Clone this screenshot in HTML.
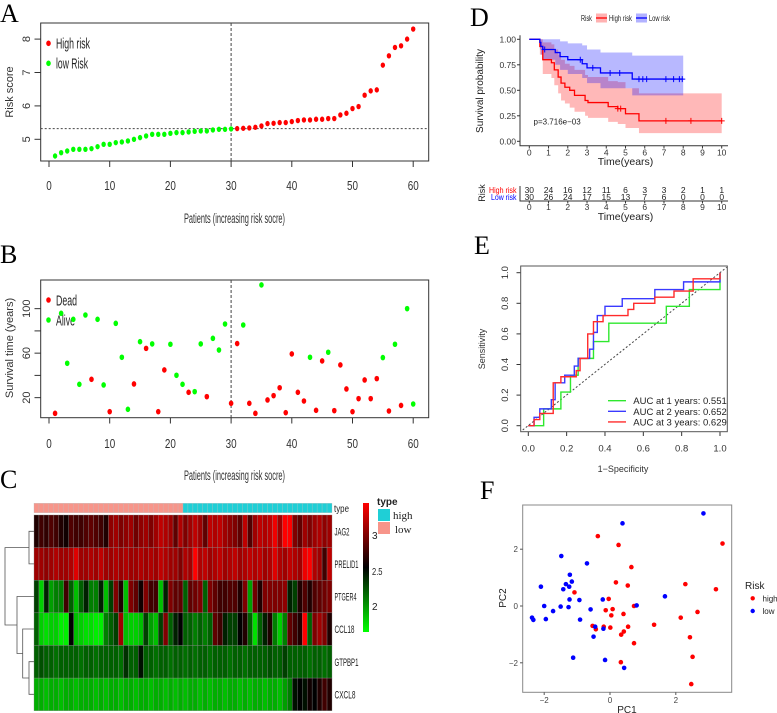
<!DOCTYPE html>
<html><head><meta charset="utf-8"><style>
html,body{margin:0;padding:0;background:#fff;}
svg{display:block;font-family:"Liberation Sans",sans-serif;}
.serif{font-family:"Liberation Serif",serif;}
</style></head><body>
<svg id="fig" width="777" height="713" viewBox="0 0 777 713">
<rect x="0" y="0" width="777" height="713" fill="#fff"/>
<text class="serif" x="0" y="22" font-size="26">A</text>
<text class="serif" x="0" y="263" font-size="26">B</text>
<text class="serif" x="0" y="488" font-size="26">C</text>
<text class="serif" x="470" y="26" font-size="26">D</text>
<text class="serif" x="474" y="254" font-size="26">E</text>
<text class="serif" x="480" y="499" font-size="26">F</text>

<g id="pa">
<rect x="40.7" y="23" width="388" height="138" fill="none" stroke="#333" stroke-width="1"/>
<text x="184" y="223" font-size="13.5" textLength="101" lengthAdjust="spacingAndGlyphs" fill="#333">Patients (increasing risk socre)</text>
<text x="13" y="92" font-size="11" text-anchor="middle" fill="#333" transform="rotate(-90 13 92)">Risk score</text>
<ellipse cx="48.5" cy="43.3" rx="2.3" ry="2.8" fill="#f00"/>
<text x="56" y="48.5" font-size="14.5" textLength="34" lengthAdjust="spacingAndGlyphs" fill="#222">High risk</text>
<ellipse cx="48.5" cy="63.3" rx="2.3" ry="2.8" fill="#0f0"/>
<text x="56" y="68.5" font-size="14.5" textLength="32" lengthAdjust="spacingAndGlyphs" fill="#222">low Risk</text>
</g>
<g id="pb">
<rect x="40.7" y="280" width="388" height="137.7" fill="none" stroke="#333" stroke-width="1"/>
<text x="184" y="480" font-size="13.5" textLength="101" lengthAdjust="spacingAndGlyphs" fill="#333">Patients (increasing risk socre)</text>
<text x="13" y="348" font-size="11" text-anchor="middle" fill="#333" transform="rotate(-90 13 348)">Survival time (years)</text>
<ellipse cx="48.5" cy="300" rx="2.3" ry="2.8" fill="#f00"/>
<text x="56" y="305.5" font-size="14.5" textLength="21" lengthAdjust="spacingAndGlyphs" fill="#222">Dead</text>
<ellipse cx="48.5" cy="320" rx="2.3" ry="2.8" fill="#0f0"/>
<text x="56" y="325.5" font-size="14.5" textLength="19" lengthAdjust="spacingAndGlyphs" fill="#222">Alive</text>
</g>
<g id="pc">
<text x="334" y="512" font-size="10.5" textLength="15" lengthAdjust="spacingAndGlyphs" fill="#222">type</text>
<text x="377" y="505" font-size="10" font-weight="bold" fill="#222">type</text>
<rect x="378" y="509" width="12" height="12" fill="#1fcfd6"/>
<rect x="378" y="522" width="12" height="12" fill="#f7958a"/>
<text class="serif" x="393" y="519" font-size="11" fill="#222">high</text>
<text class="serif" x="395" y="533" font-size="11" fill="#222">low</text>
<defs><linearGradient id="cbar" x1="0" y1="1" x2="0" y2="0">
<stop offset="0" stop-color="#00ff00"/><stop offset="0.5" stop-color="#000"/><stop offset="1" stop-color="#ff0000"/></linearGradient></defs>
<rect x="363" y="503" width="6" height="129" fill="url(#cbar)"/>
<text x="372" y="539" font-size="10" fill="#222">3</text>
<text x="372" y="575" font-size="10.5" textLength="10.5" lengthAdjust="spacingAndGlyphs" fill="#222">2.5</text>
<text x="372" y="610" font-size="10" fill="#222">2</text>
<g fill="none" stroke="#555" stroke-width="0.8">
<path d="M34 531.3H29V563.9H34M29 547.6H5V625H17M34 661.7H29V694.3H34M29 678H22.7V629H34M22.7 653.5H17V596.5H34"/>
</g>
</g>
<g id="pd">
<text x="581" y="21" font-size="8" textLength="11" lengthAdjust="spacingAndGlyphs" fill="#222">Risk</text>
<rect x="596" y="13.5" width="11" height="9" fill="rgba(255,0,0,0.3)"/>
<line x1="596" y1="18" x2="607" y2="18" stroke="#f00" stroke-width="1.3"/>
<text x="609" y="21" font-size="8" textLength="23" lengthAdjust="spacingAndGlyphs" fill="#222">High risk</text>
<rect x="636" y="13.5" width="11" height="9" fill="rgba(0,0,255,0.3)"/>
<line x1="636" y1="18" x2="647" y2="18" stroke="#00f" stroke-width="1.3"/>
<text x="649" y="21" font-size="8" textLength="21" lengthAdjust="spacingAndGlyphs" fill="#222">Low risk</text>
<text x="483" y="91" font-size="10" text-anchor="middle" fill="#222" transform="rotate(-90 483 91)">Survival probability</text>
<text x="625.5" y="165" font-size="10.5" text-anchor="middle" fill="#222">Time(years)</text>
<text x="533.5" y="124.5" font-size="8" fill="#222">p=3.716e−03</text>
<text x="485" y="193" font-size="9" text-anchor="middle" fill="#222" transform="rotate(-90 485 193)">Risk</text>
<text x="489" y="193" font-size="8.5" textLength="27.5" lengthAdjust="spacingAndGlyphs" fill="#f00">High risk</text>
<text x="491" y="200" font-size="8.5" textLength="25.5" lengthAdjust="spacingAndGlyphs" fill="#00f">Low risk</text>
<text x="625.5" y="220" font-size="10.5" text-anchor="middle" fill="#222">Time(years)</text>
</g>
<g id="pe">
<text x="623" y="472" font-size="9" text-anchor="middle" fill="#333">1−Specificity</text>
<text x="485" y="349" font-size="9" text-anchor="middle" fill="#333" transform="rotate(-90 485 349)">Sensitivity</text>
</g>
<g id="pf">
<rect x="522.7" y="505" width="209" height="187.3" fill="none" stroke="#888" stroke-width="1"/>
<text x="627" y="713" font-size="10" text-anchor="middle" fill="#222">PC1</text>
<text x="506" y="598" font-size="10" text-anchor="middle" fill="#222" transform="rotate(-90 506 598)">PC2</text>
<text x="745" y="589" font-size="10" fill="#222">Risk</text>
<circle cx="752.7" cy="598.3" r="2.2" fill="#f00"/>
<text x="762.5" y="601.5" font-size="8" fill="#222">high</text>
<circle cx="752.7" cy="611" r="2.2" fill="#00f"/>
<text x="762.5" y="614" font-size="8" fill="#222">low</text>
</g>
</svg>
<script>
// ---------- DATA ----------
const riskScores=[4.5,4.6,4.65,4.7,4.7,4.7,4.72,4.78,4.85,4.85,4.9,4.92,4.95,5.0,5.05,5.1,5.15,5.15,5.15,5.18,5.2,5.2,5.22,5.24,5.25,5.25,5.28,5.3,5.3,5.31,5.32,5.33,5.34,5.36,5.4,5.47,5.48,5.5,5.5,5.53,5.56,5.58,5.58,5.6,5.6,5.62,5.62,5.73,5.78,5.92,5.98,6.32,6.45,6.48,7.22,7.5,7.75,7.8,8.0,8.3];
const riskCutoff=5.32;
const riskXTicks=[0,10,20,30,40,50,60];
const riskYTicks=[5,6,7,8];
const survTimes=[5.9,95.8,50.9,90.4,32,94.3,36.5,90.4,31.4,7.4,86.8,56.3,9.5,32.3,70.3,64.3,68.3,7.4,44.9,68,40.1,32,24.8,25.4,68.3,20.9,73.3,62.8,86.2,14.9,68.6,85.3,14.9,5.9,121.3,17.9,21.8,28.9,6.5,59.3,24.8,17,56.3,8.6,53,60.8,8.3,49.4,27.8,7.4,19.1,35.9,19.1,37.1,56,8,68,13,100,14.3];
const survStatus=[1,0,0,0,0,0,1,0,0,1,0,0,0,1,0,1,0,1,1,0,0,0,1,0,0,1,0,0,0,1,1,0,1,1,0,1,1,1,1,1,1,1,0,1,1,0,1,1,1,1,1,1,1,1,0,1,0,1,0,0];
const survYTicks=[20,40,60,80,100];
const survYLabels=["20","","60","","100"];
const genes=["JAG2","PRELID1","PTGER4","CCL18","GTPBP1","CXCL8"];
const geneLabelWidths=[15,24,22,20,24,21];
const sampleType=Array.from({length:60},(_,i)=>i<30?"low":"high");
const exprJAG2=[2.6,2.7,2.65,2.75,2.7,2.6,2.55,2.75,2.7,2.7,2.75,2.8,2.75,2.7,2.6,2.95,3.0,2.9,2.95,3.0,2.85,2.95,3.0,2.9,3.0,3.1,3.05,3.0,2.8,3.05,2.9,3.0,3.1,3.0,2.8,3.1,3.05,3.1,3.0,2.95,2.9,2.8,3.1,2.75,3.0,3.1,3.05,3.1,3.25,3.0,3.3,3.3,2.9,2.8,3.0,2.9,3.0,3.05,2.95,3.0];
const exprPRELID1=[3.0,3.0,2.95,3.0,3.05,3.0,3.0,3.05,3.2,3.0,3.0,3.05,3.0,3.1,3.0,3.0,3.05,3.0,3.05,3.0,3.0,3.05,3.0,3.05,3.0,3.1,3.05,3.0,3.0,2.9,3.05,3.0,3.3,3.05,3.1,3.0,3.05,3.1,3.0,3.05,3.1,3.0,3.05,3.1,3.05,3.1,3.0,3.05,3.2,3.05,3.0,3.1,3.05,3.0,3.25,3.3,3.05,3.0,2.7,3.1];
const exprPTGER4=[2.3,1.85,2.4,2.0,2.1,2.1,2.7,2.2,1.9,2.2,2.4,2.1,2.1,2.4,1.9,2.3,2.9,2.6,1.9,2.9,2.8,2.55,2.9,2.7,2.7,1.9,2.4,2.9,2.8,2.8,2.2,2.8,2.85,2.9,2.2,2.9,2.8,2.7,2.7,2.75,2.75,2.6,2.9,2.0,2.85,2.6,2.9,2.9,2.9,2.9,2.95,2.4,2.3,2.6,2.75,2.6,2.75,2.8,2.85,2.9];
const exprCCL18=[2.2,1.85,1.8,1.85,1.85,1.75,1.75,2.5,1.9,1.85,1.8,1.8,1.75,1.75,2.1,2.2,2.3,3.0,1.9,1.85,1.85,1.9,2.3,2.0,1.9,2.3,2.9,2.2,2.4,2.5,2.2,2.2,2.1,2.2,2.1,2.2,2.8,2.7,2.4,2.3,2.3,2.5,2.6,2.2,1.8,2.2,2.4,2.6,2.1,1.85,2.1,2.8,2.7,2.6,3.3,2.2,2.9,3.0,2.9,2.6];
const exprGTPBP1=[2.2,2.25,2.2,2.2,2.15,2.2,2.2,2.2,2.2,2.15,2.2,2.2,2.15,2.2,2.2,2.2,2.2,2.15,2.35,2.2,2.2,2.45,2.2,2.2,2.15,2.2,2.2,2.15,2.2,2.2,2.15,2.2,2.15,2.2,2.2,2.15,2.2,2.2,2.2,2.15,2.2,2.2,2.15,2.2,2.2,2.2,2.2,2.25,2.2,2.2,2.3,2.2,2.2,2.2,2.2,2.15,2.2,2.2,2.15,2.2];
const exprCXCL8=[1.95,1.95,1.9,1.95,1.95,1.9,1.95,1.95,1.9,1.95,1.95,1.95,1.9,1.95,1.9,1.95,1.95,1.9,1.95,1.95,1.9,1.95,1.95,1.9,1.95,1.95,1.9,1.95,1.9,1.95,1.9,1.95,1.95,1.9,1.95,1.9,1.95,1.95,1.9,1.95,1.95,1.9,1.95,1.9,1.95,1.95,1.9,1.95,1.95,1.9,2.0,2.1,2.45,2.5,2.45,2.55,2.5,2.6,2.7,2.6];
const kmTicks=[0,1,2,3,4,5,6,7,8,9,10];
const kmYTicks=[0,0.25,0.5,0.75,1.0];
const kmYLabels=["0.00","0.25","0.50","0.75","1.00"];
const highTimes=[0,0.55,0.7,1.15,1.3,1.5,1.65,1.85,2.1,2.35,2.9,3.05,4.1,4.6,5.0,5.7,10];
const highSurv=[1,0.93,0.8,0.77,0.7,0.63,0.57,0.53,0.5,0.45,0.4,0.38,0.34,0.32,0.27,0.2,0.2];
const highLower=[1,0.85,0.66,0.62,0.55,0.47,0.4,0.37,0.33,0.29,0.25,0.23,0.19,0.17,0.13,0.08,0.08];
const highUpper=[1,1,0.97,0.95,0.9,0.85,0.8,0.76,0.74,0.7,0.65,0.63,0.59,0.58,0.52,0.47,0.47];
const highCensor=[4.6,4.75,7.1,8.4,10];
const lowTimes=[0,0.55,0.6,0.7,1.35,1.6,2.0,2.75,3.0,3.7,5.35,8];
const lowSurv=[1,0.97,0.93,0.9,0.87,0.83,0.8,0.76,0.72,0.67,0.61,0.61];
const lowLower=[1,0.9,0.85,0.8,0.75,0.7,0.66,0.62,0.57,0.52,0.45,0.45];
const lowUpper=[1,1,1,1,1,0.98,0.96,0.94,0.9,0.87,0.84,0.84];
const lowCensor=[0.8,2.65,3.3,4.2,4.7,5.7,5.9,6.1,7.1,7.5,7.8,7.95];
const atRiskHigh=[30,24,16,12,11,6,3,3,2,1,1];
const atRiskLow=[30,26,24,17,15,13,7,6,0,0,0];
const rocTicks=[0,0.2,0.4,0.6,0.8,1.0];
const rocLabels=["0.0","0.2","0.4","0.6","0.8","1.0"];
const roc1Fpr=[0,0.08,0.08,0.17,0.17,0.22,0.22,0.26,0.26,0.34,0.34,0.42,0.42,0.72,0.72,0.84,0.84,1,1];
const roc1Tpr=[0,0,0.11,0.11,0.22,0.22,0.33,0.33,0.44,0.44,0.55,0.55,0.67,0.67,0.78,0.78,0.89,0.89,1];
const roc2Fpr=[0,0.03,0.03,0.06,0.06,0.12,0.12,0.14,0.14,0.19,0.19,0.24,0.24,0.26,0.26,0.32,0.32,0.34,0.34,0.36,0.36,0.4,0.4,0.49,0.49,0.66,0.66,0.81,0.81,1,1];
const roc2Tpr=[0,0,0.055,0.055,0.11,0.11,0.17,0.17,0.28,0.28,0.33,0.33,0.39,0.39,0.44,0.44,0.5,0.5,0.61,0.61,0.72,0.72,0.78,0.78,0.83,0.83,0.89,0.89,0.94,0.94,1];
const roc3Fpr=[0,0.03,0.03,0.06,0.06,0.13,0.13,0.17,0.17,0.25,0.25,0.27,0.27,0.31,0.31,0.34,0.34,0.39,0.39,0.52,0.52,0.55,0.55,0.66,0.66,0.76,0.76,0.86,0.86,0.86,1,1];
const roc3Tpr=[0,0,0.04,0.04,0.08,0.08,0.28,0.28,0.32,0.32,0.36,0.36,0.44,0.44,0.6,0.6,0.68,0.68,0.72,0.72,0.76,0.76,0.8,0.8,0.84,0.84,0.88,0.88,0.92,0.96,0.96,1];
const rocLegend=["AUC at 1 years: 0.551","AUC at 2 years: 0.652","AUC at 3 years: 0.629"];
const pcaHighX=[-0.37,0.26,3.42,0.65,0.18,2.29,0.54,3.22,-1.08,-0.04,-0.13,0.08,0.04,0.41,0.73,-0.53,-0.43,-0.19,0.01,0.55,1.34,2.15,2.66,0.42,0.34,0.73,2.43,2.51,0.33,2.47];
const pcaHighY=[2.46,2.15,2.2,1.37,0.83,0.77,0.72,0.59,0.48,0.25,-0.15,-0.11,-0.33,-0.28,0,-0.7,-0.82,-0.73,-0.76,-0.73,-0.66,-0.41,-0.21,-0.9,-1.01,-1.31,-1.1,-1.79,-1.98,-2.75];
const pcaLowX=[2.84,0.38,-1.48,-0.7,-1.22,-1.16,-1.34,-1.24,-2.1,-1.42,-1.23,-0.93,-0.22,-2.0,-1.5,-1.26,-1.73,-0.59,0.81,1.67,-2.37,-2.33,-1.95,-0.91,-0.45,-0.2,-0.5,-1.12,-0.15,0.43];
const pcaLowY=[3.26,2.91,1.76,1.5,1.1,0.86,0.77,0.68,0.68,0.59,0.23,0.21,0.23,0,-0.02,-0.04,-0.18,-0.12,0.02,0.34,-0.41,-0.49,-0.46,-0.48,-0.73,-0.8,-1.08,-1.82,-1.9,-2.18];
const pcaTicks=[-2,0,2];

// ---------- HELPERS ----------
const NS='http://www.w3.org/2000/svg';
function mk(tag,attrs,parent){const e=document.createElementNS(NS,tag);for(const k in attrs)e.setAttribute(k,attrs[k]);parent.appendChild(e);return e;}
function tx(parent,x,y,s,attrs){const e=mk('text',Object.assign({x:x,y:y},attrs||{}),parent);e.textContent=s;return e;}

// ---------- PANEL A ----------
const pa=document.getElementById('pa');
const xA=i=>49+i*6.07, yA=v=>139.3-(v-5)*33.4;
riskXTicks.forEach(t=>{
  const l=mk('line',{x1:xA(t),y1:161,x2:xA(t),y2:167,stroke:'#333'},pa);
  
  
  const s=tx(pa,xA(t),190,String(t),{'text-anchor':'middle','font-size':12.5,fill:'#333',textLength:String(t).length*5.5,lengthAdjust:'spacingAndGlyphs'});
  
  
});
riskYTicks.forEach(t=>{
  const l=mk('line',{x1:34.5,y1:yA(t),x2:40.7,y2:yA(t),stroke:'#333'},pa);
  
  
  const s=tx(pa,30,yA(t),String(t),{'text-anchor':'middle','font-size':11,fill:'#333',transform:`rotate(-90 30 ${yA(t)})`});
  
  
});
const cut=mk('line',{x1:40.7,y1:yA(riskCutoff),x2:428.7,y2:yA(riskCutoff),stroke:'#444','stroke-dasharray':'2,2'},pa);


const vA=mk('line',{x1:xA(30),y1:23,x2:xA(30),y2:161,stroke:'#444','stroke-dasharray':'3,2'},pa);


riskScores.forEach((v,i)=>{
  const c=mk('ellipse',{cx:xA(i+1),cy:yA(v),rx:2.2,ry:2.7,fill:i<30?'#0f0':'#f00'},pa);
  
  
});

// ---------- PANEL B ----------
const pb=document.getElementById('pb');
const yB=v=>419.9-v*1.1125;
riskXTicks.forEach(t=>{
  const l=mk('line',{x1:xA(t),y1:417.7,x2:xA(t),y2:423.5,stroke:'#333'},pb);
  
  
  const s=tx(pb,xA(t),448,String(t),{'text-anchor':'middle','font-size':12.5,fill:'#333',textLength:String(t).length*5.5,lengthAdjust:'spacingAndGlyphs'});
  
  
});
survYTicks.forEach((t,k)=>{
  const l=mk('line',{x1:34.5,y1:yB(t),x2:40.7,y2:yB(t),stroke:'#333'},pb);
  
  
  const s=tx(pb,30,yB(t),survYLabels[k],{'text-anchor':'middle','font-size':11,fill:'#333',transform:`rotate(-90 30 ${yB(t)})`});
  
  
});
const vB=mk('line',{x1:xA(30),y1:280,x2:xA(30),y2:417.7,stroke:'#444','stroke-dasharray':'3,2'},pb);


survTimes.forEach((v,i)=>{
  const c=mk('ellipse',{cx:xA(i+1),cy:yB(v),rx:2.3,ry:2.8,fill:survStatus[i]?'#f00':'#0f0'},pb);
  
  
});

// ---------- PANEL C ----------
const pc=document.getElementById('pc');
const expr=[exprJAG2,exprPRELID1,exprPTGER4,exprCCL18,exprGTPBP1,exprCXCL8];
const hx0=34,hx1=332,cw=(hx1-hx0)/60,hy0=515,rh=(710.7-515)/6;
function hcol(v){
  if(v>=2.5){const t=Math.min(1,(v-2.5)/0.8);return `rgb(${Math.round(255*t)},0,0)`;}
  const t=Math.min(1,(2.5-v)/0.8);return `rgb(0,${Math.round(255*t)},0)`;
}
sampleType.forEach((ty,j)=>{
  const r=mk('rect',{x:hx0+j*cw,y:503.3,width:cw,height:9.4,fill:ty==='low'?'#f7958a':'#1fcfd6',stroke:'#bbb','stroke-width':0.3},pc);
  
  
});
expr.forEach((row,g)=>{
  row.forEach((v,j)=>{
    const r=mk('rect',{x:hx0+j*cw,y:hy0+g*rh,width:cw,height:rh,fill:hcol(v),stroke:'#8a8a8a','stroke-width':0.35},pc);
    
    
  });
  const s=tx(pc,334.5,hy0+g*rh+rh/2+4,genes[g],{'font-size':11,fill:'#222',textLength:geneLabelWidths[g],lengthAdjust:'spacingAndGlyphs'});
  
  
});

// ---------- PANEL D ----------
const pd=document.getElementById('pd');
const xD=t=>529.3+t*19.24, yD=v=>141.3-v*102;
function stepPath(ts,vs){let d=`M${xD(ts[0])} ${yD(vs[0])}`;for(let i=1;i<ts.length;i++){d+=`H${xD(ts[i])}V${yD(vs[i])}`;}return d;}
function band(ts,lo,hi){let d=`M${xD(ts[0])} ${yD(hi[0])}`;for(let i=1;i<ts.length;i++){d+=`H${xD(ts[i])}V${yD(hi[i])}`;}
  d+=`V${yD(lo[ts.length-1])}`;for(let i=ts.length-1;i>0;i--){d+=`H${xD(ts[i])}V${yD(lo[i-1])}`;}d+=`H${xD(ts[0])}Z`;return d;}
const bh=mk('path',{d:band(highTimes,highLower,highUpper),fill:'rgba(255,0,0,0.28)',stroke:'none'},pd);


const bl=mk('path',{d:band(lowTimes,lowLower,lowUpper),fill:'rgba(0,0,255,0.28)',stroke:'none'},pd);


const lh=mk('path',{d:stepPath(highTimes,highSurv),fill:'none',stroke:'#f00','stroke-width':1.3},pd);


const ll=mk('path',{d:stepPath(lowTimes,lowSurv),fill:'none',stroke:'#00f','stroke-width':1.3},pd);


function survAt(ts,vs,t){let v=vs[0];for(let i=0;i<ts.length;i++){if(ts[i]<=t)v=vs[i];}return v;}
highCensor.forEach(t=>{const y=yD(survAt(highTimes,highSurv,t));
  const c=mk('path',{d:`M${xD(t)} ${y-3}V${y+3}M${xD(t)-3} ${y}H${xD(t)+3}`,stroke:'#f00','stroke-width':1},pd);
  
  });
lowCensor.forEach(t=>{const y=yD(survAt(lowTimes,lowSurv,t));
  const c=mk('path',{d:`M${xD(t)} ${y-3}V${y+3}M${xD(t)-3} ${y}H${xD(t)+3}`,stroke:'#00f','stroke-width':1},pd);
  
  });
const axD=mk('path',{d:`M520 ${yD(1.04)}V145.7H728`,fill:'none',stroke:'#333','stroke-width':1},pd);


kmYTicks.forEach((t,k)=>{
  const l=mk('line',{x1:517,y1:yD(t),x2:520,y2:yD(t),stroke:'#333'},pd);
  
  
  const s=tx(pd,516,yD(t)+3,kmYLabels[k],{'text-anchor':'end','font-size':8.5,fill:'#333'});
  
  
});
const axT=mk('path',{d:'M520 186V201H728',fill:'none',stroke:'#333','stroke-width':1},pd);


kmTicks.forEach((t,k)=>{
  const l=mk('line',{x1:xD(t),y1:145.7,x2:xD(t),y2:148.5,stroke:'#333'},pd);
  
  
  const s=tx(pd,xD(t),155.5,String(t),{'text-anchor':'middle','font-size':8.5,fill:'#333'});
  
  
  const l2=mk('line',{x1:xD(t),y1:201,x2:xD(t),y2:203.5,stroke:'#333'},pd);
  
  
  const s2=tx(pd,xD(t),210,String(t),{'text-anchor':'middle','font-size':8.5,fill:'#333'});
  
  
  const a=tx(pd,xD(t),193,String(atRiskHigh[k]),{'text-anchor':'middle','font-size':8.5,fill:'#222'});
  
  
  const b=tx(pd,xD(t),200,String(atRiskLow[k]),{'text-anchor':'middle','font-size':8.5,fill:'#222'});
  
  
});

// ---------- PANEL E ----------
const pe=document.getElementById('pe');
const xE=v=>528.3+v*191.7, yE=v=>425.7-v*153;
rocTicks.forEach((t,k)=>{
  const l=mk('line',{x1:xE(t),y1:431.7,x2:xE(t),y2:436,stroke:'#333'},pe);
  
  
  const s=tx(pe,xE(t),451.5,rocLabels[k],{'text-anchor':'middle','font-size':9.5,fill:'#333'});
  
  
  const l2=mk('line',{x1:516.5,y1:yE(t),x2:520.7,y2:yE(t),stroke:'#333'},pe);
  
  
  const s2=tx(pe,508,yE(t),rocLabels[k],{'text-anchor':'middle','font-size':9.5,fill:'#333',transform:`rotate(-90 508 ${yE(t)})`});
  
  
});
const diag=mk('line',{x1:522.7,y1:430,x2:726.7,y2:267.3,stroke:'#444','stroke-dasharray':'2,2'},pe);


const rocSeries=[[roc1Fpr,roc1Tpr,'#2ee82e'],[roc2Fpr,roc2Tpr,'#3a3aff'],[roc3Fpr,roc3Tpr,'#ff2a2a']];
rocSeries.forEach((s,k)=>{
  const d=s[0].map((f,i)=>(i?'L':'M')+xE(f)+' '+yE(s[1][i])).join('');
  const p=mk('path',{d:d,fill:'none',stroke:s[2],'stroke-width':1.4},pe);
  
  
  const ly=400.7+k*10.6;
  const l=mk('line',{x1:608,y1:ly,x2:626,y2:ly,stroke:s[2],'stroke-width':1.4},pe);
  
  
  const t=tx(pe,633.3,ly+3.5,rocLegend[k],{'font-size':9.5,fill:'#222'});
  
  
});
const fe=mk('rect',{x:520.7,y:266,width:206.6,height:165.7,fill:'none',stroke:'#555','stroke-width':1},pe);



// ---------- PANEL F ----------
const pf=document.getElementById('pf');
const xF=v=>610+v*32.9, yF=v=>606-v*28.4;
pcaTicks.forEach(t=>{
  const l=mk('line',{x1:xF(t),y1:692.3,x2:xF(t),y2:695,stroke:'#555'},pf);
  
  
  const s=tx(pf,xF(t),703,String(t).replace('-','−'),{'text-anchor':'middle','font-size':8,fill:'#444'});
  
  
  const l2=mk('line',{x1:520,y1:yF(t),x2:522.7,y2:yF(t),stroke:'#555'},pf);
  
  
  const s2=tx(pf,518,yF(t)+3,String(t).replace('-','−'),{'text-anchor':'end','font-size':8,fill:'#444'});
  
  
});
pcaHighX.forEach((v,i)=>{
  const c=mk('circle',{cx:xF(v),cy:yF(pcaHighY[i]),r:2.3,fill:'#f00'},pf);
  
  
});
pcaLowX.forEach((v,i)=>{
  const c=mk('circle',{cx:xF(v),cy:yF(pcaLowY[i]),r:2.3,fill:'#00f'},pf);
  
  
});
</script>
</body></html>
